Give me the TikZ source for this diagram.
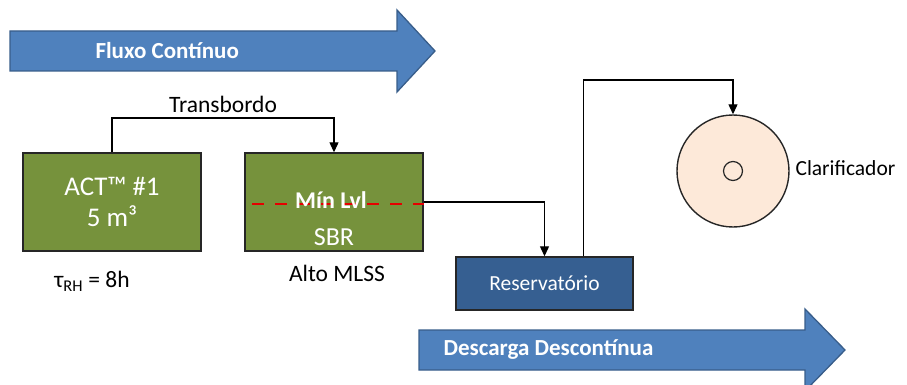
\documentclass[tikz,border=0pt]{standalone}
\usepackage{fontspec}
\setmainfont{Carlito}
\definecolor{TankGreen}{RGB}{118,146,60}
\definecolor{ResBlue}{RGB}{54,95,145}
\definecolor{ArrowBlue}{RGB}{79,129,189}
\definecolor{ArrowEdge}{RGB}{56,93,138}
\definecolor{Peach}{RGB}{253,233,217}
\usetikzlibrary{arrows.meta, calc}

\begin{document}
\begin{tikzpicture}[x=1pt, y=-1pt,
    tank/.style={draw=black!85, line width=1.4pt, fill=TankGreen, minimum width=178pt, minimum height=98pt, inner sep=0pt},
    flow/.style={line width=1.2pt, -{Triangle[length=10pt,width=9pt]}},
    bigarrow/.style={fill=ArrowBlue, draw=ArrowEdge, line width=1.3pt, line join=miter},
    arrowtxt/.style={text=white, font=\bfseries\fontsize{23}{26}\selectfont, anchor=west},
    tanktxt/.style={text=white, font=\fontsize{27}{31}\selectfont, align=center},
    lbl/.style={font=\fontsize{23.5}{26}\selectfont},
    minline/.style={red!90!black, line width=2.2pt, dash pattern=on 12pt off 11pt}]
  \useasboundingbox (0,0) rectangle (907,385);
  % big flow arrows
  \draw[bigarrow] (10,31) -- (397,31) -- (397,10) -- (435,51) -- (397,92) -- (397,71) -- (10,71) -- cycle;
  \node[arrowtxt] (fluxo) at (92,51) {Fluxo Contínuo};
  \draw[bigarrow] (419,330) -- (805,330) -- (805,309) -- (845,350) -- (805,391) -- (805,370) -- (419,370) -- cycle;
  \node[arrowtxt] (descarga) at (440,350) {Descarga Descontínua};
  % tanks
  \node[tank] (act) at (112,202) {};
  \node[tanktxt] (actlbl) at (112,202) {ACT™ \#1\\5 m³};
  \node[tank] (sbr) at (334,202) {};
  \draw[minline] ([xshift=8pt]sbr.west |- 0,204) -- (sbr.east |- 0,204);
  \node[text=white, font=\bfseries\fontsize{24}{26}\selectfont] (minlvl) at (331,200) {Mín Lvl};
  \node[tanktxt, font=\fontsize{26}{30}\selectfont] (sbrlbl) at (334,237) {SBR};
  \node[lbl] (trh) at (92,281) {τ\textsubscript{RH} = 8h};
  \node[lbl] (mlss) at (337,273) {Alto MLSS};
  \node[draw=black!85, line width=1.4pt, fill=ResBlue, text=white, minimum width=177pt, minimum height=53pt, font=\fontsize{21.5}{24}\selectfont] (res) at (544.5,283.5) {Reservatório};
  \node[circle, draw=black!85, line width=1.4pt, fill=Peach, minimum size=112pt] (clar) at (733,171) {};
  \node[circle, draw=black!85, line width=1.2pt, minimum size=19pt] (core) at (clar.center) {};
  \node[lbl, anchor=west, font=\fontsize{21.5}{24}\selectfont] (clarlbl) at (792,168) {Clarificador};
  % connectors
  \coordinate (tb) at (223,118);
  \node[lbl] (transb) at (223,104) {Transbordo};
  \draw[flow] (act.north) |- (tb) -| (sbr.north);
  \draw[flow] (sbr.east) -| (res.north);
  \coordinate (over) at (660,80);
  \draw[flow] ([xshift=39pt]res.north) |- (over) -| (clar.north);
\end{tikzpicture}
\end{document}
